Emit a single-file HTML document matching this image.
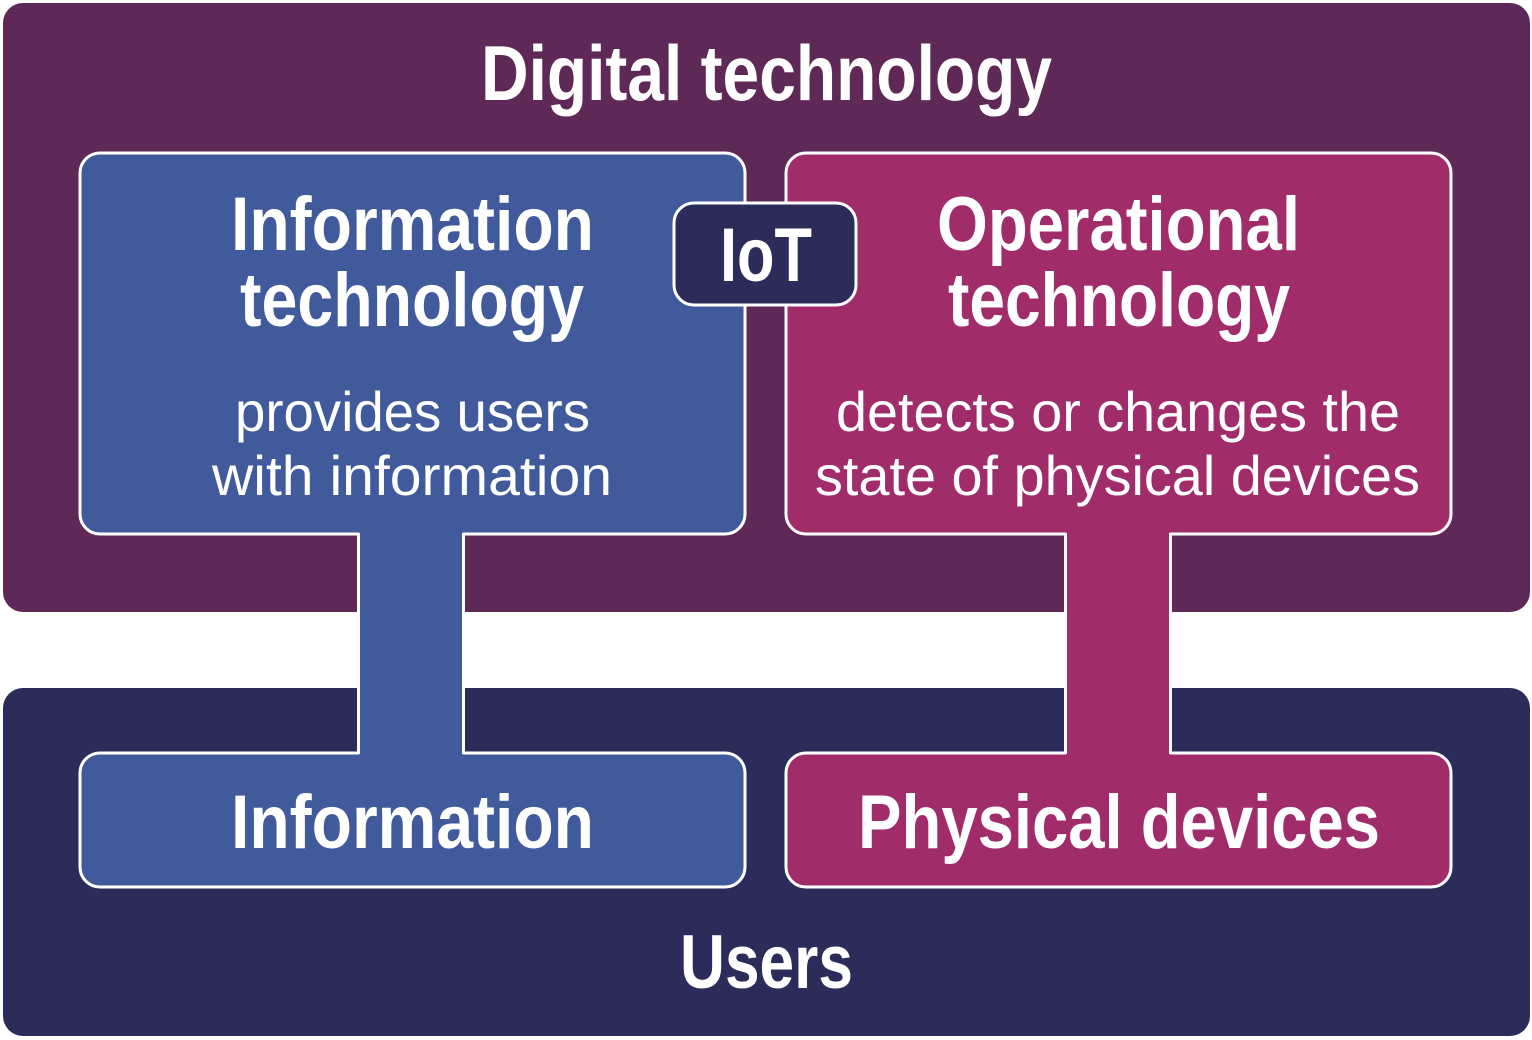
<!DOCTYPE html>
<html><head><meta charset="utf-8"><style>
html,body{margin:0;padding:0;background:#fff;}
svg{display:block}
.b{font-family:"Liberation Sans Narrow","Liberation Sans",sans-serif;font-weight:bold;fill:#fff;}
.r{font-family:"Liberation Sans Narrow","Liberation Sans",sans-serif;fill:#fff;}
</style></head><body>
<svg width="1532" height="1040" viewBox="0 0 1532 1040" xmlns="http://www.w3.org/2000/svg">
<rect x="0" y="0" width="1532" height="1040" fill="#fff"/>
<rect x="3" y="3" width="1527" height="609" rx="20" fill="#5e2956"/>
<rect x="3" y="688" width="1527" height="348" rx="20" fill="#2c2c5a"/>
<!-- boxes -->
<rect x="80" y="153" width="665" height="381" rx="20" fill="#415a9c" stroke="#fff" stroke-width="3"/>
<rect x="786" y="153" width="665" height="381" rx="20" fill="#a02c6a" stroke="#fff" stroke-width="3"/>
<rect x="80" y="753" width="665" height="134" rx="20" fill="#415a9c" stroke="#fff" stroke-width="3"/>
<rect x="786" y="753" width="665" height="134" rx="20" fill="#a02c6a" stroke="#fff" stroke-width="3"/>
<!-- connectors -->
<rect x="359" y="531" width="104" height="225" fill="#415a9c"/>
<line x1="358.5" y1="533" x2="358.5" y2="754" stroke="#fff" stroke-width="3"/>
<line x1="463.5" y1="533" x2="463.5" y2="754" stroke="#fff" stroke-width="3"/>
<rect x="1066" y="531" width="104" height="225" fill="#a02c6a"/>
<line x1="1065.5" y1="533" x2="1065.5" y2="754" stroke="#fff" stroke-width="3"/>
<line x1="1170.5" y1="533" x2="1170.5" y2="754" stroke="#fff" stroke-width="3"/>
<!-- IoT -->
<rect x="674" y="203" width="182" height="102" rx="20" fill="#2c2c5a" stroke="#fff" stroke-width="3"/>
<!-- text -->
<text class="b" x="481" y="100" font-size="78" textLength="571" lengthAdjust="spacingAndGlyphs">Digital technology</text>
<text class="b" x="231" y="250" font-size="76" textLength="363" lengthAdjust="spacingAndGlyphs">Information</text>
<text class="b" x="240" y="326" font-size="76" textLength="344" lengthAdjust="spacingAndGlyphs">technology</text>
<text class="b" x="720" y="281" font-size="76" textLength="92" lengthAdjust="spacingAndGlyphs">IoT</text>
<text class="b" x="937" y="250" font-size="76" textLength="363" lengthAdjust="spacingAndGlyphs">Operational</text>
<text class="b" x="948" y="326" font-size="76" textLength="342" lengthAdjust="spacingAndGlyphs">technology</text>
<text class="r" x="235" y="431" font-size="56" textLength="355" lengthAdjust="spacingAndGlyphs">provides users</text>
<text class="r" x="212" y="495" font-size="56" textLength="400" lengthAdjust="spacingAndGlyphs">with information</text>
<text class="r" x="836" y="431" font-size="56" textLength="564" lengthAdjust="spacingAndGlyphs">detects or changes the</text>
<text class="r" x="815" y="495" font-size="56" textLength="605" lengthAdjust="spacingAndGlyphs">state of physical devices</text>
<text class="b" x="231" y="848" font-size="76" textLength="363" lengthAdjust="spacingAndGlyphs">Information</text>
<text class="b" x="858" y="848" font-size="76" textLength="522" lengthAdjust="spacingAndGlyphs">Physical devices</text>
<text class="b" x="680" y="988" font-size="76" textLength="173" lengthAdjust="spacingAndGlyphs">Users</text>
</svg>
</body></html>
